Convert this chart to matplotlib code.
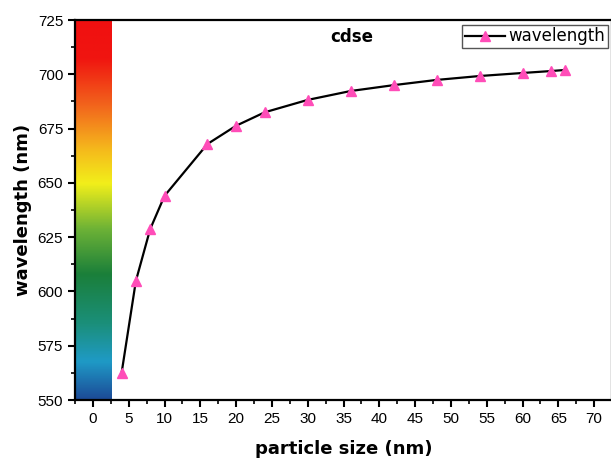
import matplotlib.pyplot as plt
import numpy as np
from matplotlib.colors import LinearSegmentedColormap
from matplotlib.ticker import MultipleLocator

# data
size_nm = [4, 6, 8, 10, 16, 20, 24, 30, 36, 42, 48, 54, 60, 64, 66]
wavelength = [562.3, 604.8, 628.7, 644.0, 667.9, 676.3, 682.5, 688.2, 692.3, 695.0, 697.4, 699.2, 700.6, 701.5, 702.0]

# spectrum strip on the left
strip_stops = [0.0, 0.1, 0.2, 0.33, 0.45, 0.57, 0.66, 0.78, 0.9, 1.0]
strip_colors = ['#1c4a97', '#1f9ac6', '#1b8f7a', '#1a7f3a', '#6db236', '#f2ef1a',
                '#f5b91c', '#f2621c', '#f01510', '#f01010']

fig = plt.figure(figsize=(6.11, 4.59), dpi=100)
ax = fig.add_axes([75/611, 1 - 400/459, 537/611, 380/459])

cmap = LinearSegmentedColormap.from_list('spec', list(zip(strip_stops, strip_colors)))
ax.imshow(np.linspace(0, 1, 256).reshape(-1, 1), cmap=cmap, origin='lower',
          extent=[-2.5, 2.65, 550, 725], aspect='auto', zorder=0)

ax.plot(size_nm, wavelength, color='black', lw=1.6, marker='^', ms=7,
        mfc='#ff4db8', mec='#ff4db8', label='wavelength', zorder=3)

ax.set_xlim(-2.5, 72.5)
ax.set_ylim(550, 725)
ax.xaxis.set_major_locator(MultipleLocator(5))
ax.xaxis.set_minor_locator(MultipleLocator(2.5))
ax.yaxis.set_major_locator(MultipleLocator(25))
ax.yaxis.set_minor_locator(MultipleLocator(12.5))
ax.tick_params(which='major', direction='out', length=5, width=1.5, labelsize=11)
ax.tick_params(which='minor', direction='out', length=3, width=1.2)
for lab in ax.get_xticklabels() + ax.get_yticklabels():
    lab.set_fontfamily('Liberation Sans')
for s in ax.spines.values():
    s.set_linewidth(1.6)

ax.set_xlabel('particle size (nm)', fontsize=13, fontweight='bold', labelpad=10)
ax.set_ylabel('wavelength (nm)', fontsize=13, fontweight='bold', labelpad=4)
fig.text(352/611, 1 - 37/459, 'cdse', fontsize=12, fontweight='bold', ha='center', va='center')

leg = ax.legend(loc='upper right', bbox_to_anchor=(0.9926, 0.987),
                fontsize=12, fancybox=False, edgecolor='#555555', framealpha=1,
                handlelength=2.4, borderpad=0.15, handletextpad=0.25, borderaxespad=0.0)
leg.get_frame().set_linewidth(1.0)

fig.savefig('out.png', dpi=100)
